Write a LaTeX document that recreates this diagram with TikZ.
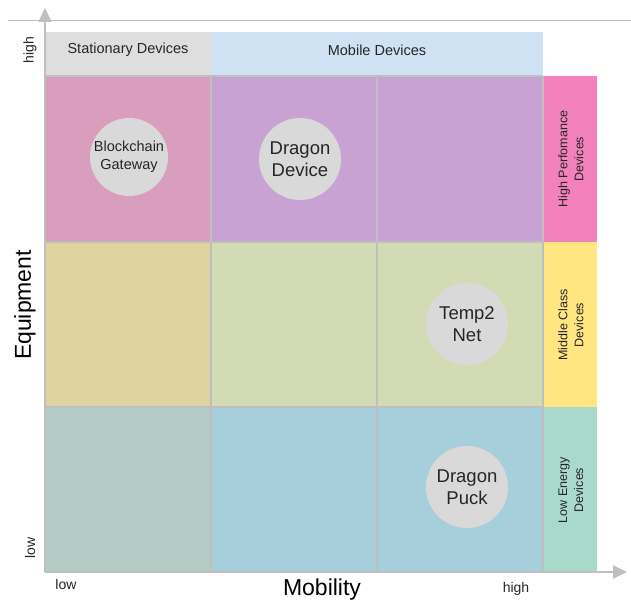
\documentclass[tikz,border=0pt]{standalone}
\usepackage{fontspec}
\setmainfont{Liberation Sans}
\usetikzlibrary{arrows.meta}
\definecolor{gridgray}{HTML}{BFBFBF}
\definecolor{hdrgray}{HTML}{DEDEDE}
\definecolor{hdrblue}{HTML}{CFE2F3}
\definecolor{cAa}{HTML}{D99EBD}
\definecolor{cAb}{HTML}{C8A2D3}
\definecolor{cBa}{HTML}{DDD4A0}
\definecolor{cBb}{HTML}{D2DBB3}
\definecolor{cCa}{HTML}{B4CCC5}
\definecolor{cCb}{HTML}{A7CFDB}
\definecolor{sidepink}{HTML}{F281BC}
\definecolor{sideyellow}{HTML}{FFE680}
\definecolor{sideteal}{HTML}{A8D9CB}
\definecolor{bubble}{HTML}{D9D9D9}
\definecolor{ink}{HTML}{262626}
\tikzset{
  px/.style={x=1pt,y=-1pt},
  bubblenode/.style={circle,fill=bubble,minimum size=82pt,inner sep=0pt,align=center,text=ink,font=\fontsize{18.5}{22}\selectfont},
  hdrtext/.style={text=ink,font=\fontsize{14.5}{17}\selectfont},
  sidetext/.style={text=ink,align=center,rotate=90,font=\fontsize{12.5}{16}\selectfont},
  axistitle/.style={text=black,font=\fontsize{23}{26}\selectfont},
  ticktext/.style={text=ink,font=\fontsize{14}{16}\selectfont},
  axisline/.style={draw=gridgray,line width=2pt,-{Triangle[length=14pt,width=13pt]}},
}
\begin{document}
\begin{tikzpicture}[px]
\useasboundingbox (0,0) rectangle (631,604);
% top rule
\draw[gridgray,line width=1pt] (8,21) -- (631,21);
% column headers
\fill[hdrgray] (45,32) rectangle (211,76);
\fill[hdrblue] (211,32) rectangle (543,76);
\node[hdrtext] (hstat) at (128,50) {Stationary Devices};
\node[hdrtext] (hmob) at (377,50) {Mobile Devices};
% matrix cells
\fill[cAa] (45,76) rectangle (211,242);
\fill[cAb] (211,76) rectangle (543,242);
\fill[cBa] (45,242) rectangle (211,407);
\fill[cBb] (211,242) rectangle (543,407);
\fill[cCa] (45,407) rectangle (211,572);
\fill[cCb] (211,407) rectangle (543,572);
% device classes on the right
\fill[sidepink] (543,76) rectangle (597,242);
\fill[sideyellow] (543,242) rectangle (597,407);
\fill[sideteal] (543,407) rectangle (597,572);
\node[sidetext] (shigh) at (571,159) {High Perfomance\\Devices};
\node[sidetext] (smid) at (571,325) {Middle Class\\Devices};
\node[sidetext] (slow) at (571,490) {Low Energy\\Devices};
% grid lines
\draw[gridgray,line width=2pt] (45,76) -- (543,76);
\draw[gridgray,line width=2pt] (45,242) -- (543,242);
\draw[gridgray,line width=2pt] (45,407) -- (543,407);
\draw[gridgray,line width=2pt] (211,76) -- (211,572);
\draw[gridgray,line width=2pt] (377,76) -- (377,572);
\draw[gridgray,line width=2pt] (543,76) -- (543,572);
% axes
\coordinate (origin) at (45,572);
\coordinate (ytip) at (45,8);
\coordinate (xtip) at (627,572);
\draw[axisline] (origin) -- (ytip);
\draw[axisline] (origin) -- (xtip);
% devices
\node[bubblenode,minimum size=78pt,font=\fontsize{14.5}{18}\selectfont] (gateway) at (129,157) {Blockchain\\Gateway};
\node[bubblenode] (dragondev) at (300,159) {Dragon\\Device};
\node[bubblenode] (temp) at (467,324) {Temp2\\Net};
\node[bubblenode] (puck) at (467,487) {Dragon\\Puck};
% axis labels
\node[axistitle,rotate=90] (equip) at (25,305) {Equipment};
\node[axistitle] (mob) at (322,590) {Mobility};
\node[ticktext,rotate=90] (yhigh) at (30,50) {high};
\node[ticktext,rotate=90] (ylow) at (30,548) {low};
\node[ticktext] (xlow) at (66,584) {low};
\node[ticktext] (xhigh) at (516,589) {high};
\end{tikzpicture}
\end{document}
